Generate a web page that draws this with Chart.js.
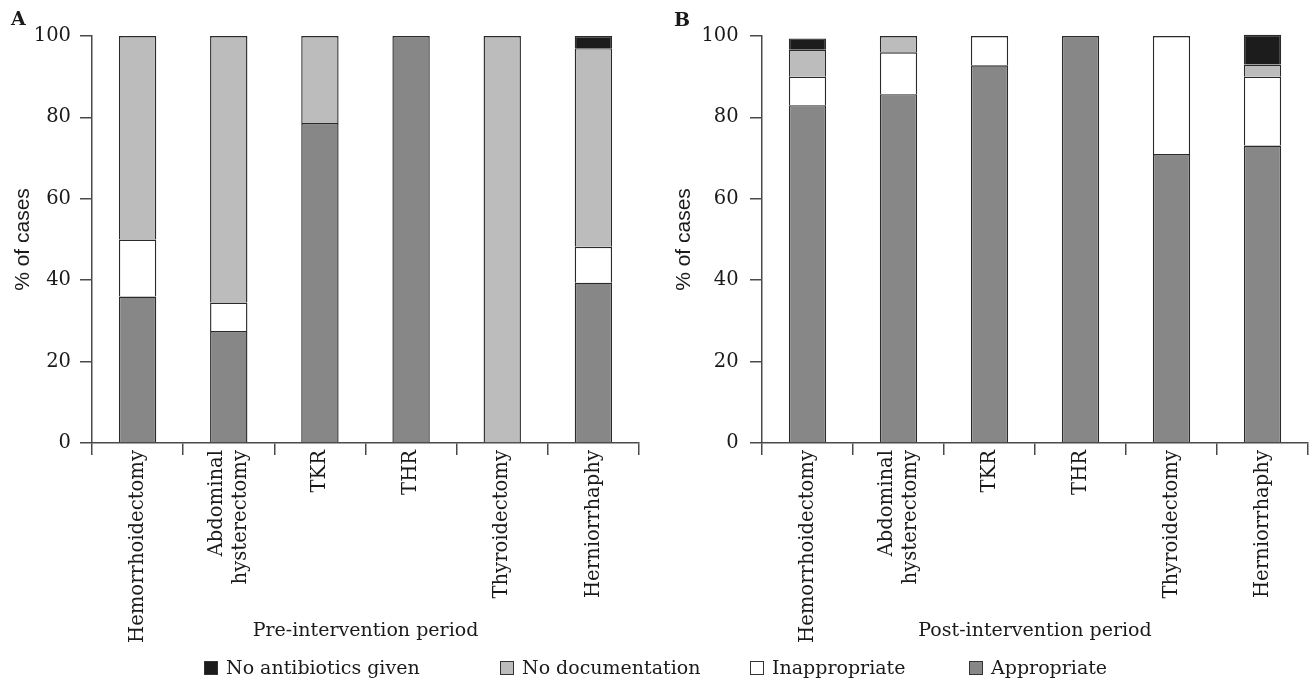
<!DOCTYPE html>
<html>
<head>
<meta charset="utf-8">
<script src="https://cdn.jsdelivr.net/npm/chart.js@4.4.1/dist/chart.umd.min.js"></script>
<style>
  html, body { margin: 0; padding: 0; background: #fff; }
  #wrap { position: relative; width: 1309px; height: 680px; overflow: hidden; }
  canvas { position: absolute; top: 0; }
  #chartA { left: 0; }
  #chartB { left: 670px; }
  .panel { position: absolute; font: bold 19px "DejaVu Serif"; color: #1a1a1a; line-height: 19px; }
  .item { position: absolute; top: 656px; font: 19px "DejaVu Serif"; color: #1a1a1a; line-height: 22px; white-space: nowrap; }
  .item i { display: inline-block; width: 12px; height: 12px; border: 1px solid #333; margin-right: 8px; vertical-align: -1px; }
</style>
</head>
<body>
<div id="wrap">
  <canvas id="chartA" width="640" height="680"></canvas>
  <canvas id="chartB" width="639" height="680"></canvas>
  <div class="panel" style="left:11px;top:9px">A</div>
  <div class="panel" style="left:674px;top:10px">B</div>
  <div id="legend"></div>
</div>
<script>
// surgery types
const categories = ['Hemorrhoidectomy', ['Abdominal', 'hysterectomy'], 'TKR', 'THR', 'Thyroidectomy', 'Herniorrhaphy'];
const yTicks = [0, 20, 40, 60, 80, 100];

// pre-intervention, % of cases
const preAppropriate = [36, 27.5, 78.6, 100, 0, 39.4];
const preInappropriate = [14, 7, 0, 0, 0, 8.8];
const preNoDoc = [50, 65.5, 21.4, 0, 100, 48.8];
const preNoAntibiotics = [0, 0, 0, 0, 0, 3];

// post-intervention, % of cases
const postAppropriate = [83, 85.7, 92.8, 100, 71, 73.1];
const postInappropriate = [7, 10.3, 7.2, 0, 29, 16.9];
const postNoDoc = [6.6, 4, 0, 0, 0, 3];
const postNoAntibiotics = [2.8, 0, 0, 0, 0, 7.3];

const seriesNames = ['Appropriate', 'Inappropriate', 'No documentation', 'No antibiotics given'];
const seriesColors = ['#878787', '#ffffff', '#bcbcbc', '#1c1c1c'];

const AXIS = '#4a4a4a';
const TEXT = '#1a1a1a';

// two-line labels: centre the block on the tick, not the first line
const centerLines = {
    id: 'centerLines',
    beforeDraw(chart) {
        const items = chart.scales.x.getLabelItems();
        items.forEach(it => {
            if (Array.isArray(it.label) && !it._moved) {
                it.textOffset -= (it.label.length - 1) * it.font.lineHeight / 2;
                it._moved = true;
            }
        });
    }
};

function makeDatasets(values) {
    return values.map((v, i) => ({
        label: seriesNames[i],
        data: v.map(x => x === 0 ? null : x),
        backgroundColor: seriesColors[i],
        borderColor: '#2a2a2a',
        borderWidth: 1.4,
        barPercentage: 0.41,
        categoryPercentage: 1,
        clip: false
    }));
}

function makeChart(id, title, values, opts) {
    return new Chart(document.getElementById(id), {
        type: 'bar',
        data: { labels: categories, datasets: makeDatasets(values) },
        plugins: [centerLines],
        options: {
            responsive: false,
            animation: false,
            layout: { padding: { top: 36, right: 1, bottom: 0, left: 0 } },
            plugins: { legend: { display: false }, tooltip: { enabled: false } },
            scales: {
                x: {
                    stacked: true,
                    afterFit: s => { s.height = 237; },
                    grid: { drawOnChartArea: false, offset: true, tickLength: 12, color: AXIS, lineWidth: 1.5 },
                    border: { color: AXIS, width: 1.5 },
                    ticks: {
                        maxRotation: 90, minRotation: 90, padding: -5, color: TEXT,
                        font: { family: 'DejaVu Serif', size: 19.6, lineHeight: 1.22 }
                    },
                    title: {
                        display: true, text: title, color: TEXT,
                        font: { family: 'DejaVu Serif', size: 19 },
                        padding: { top: 0, bottom: 37.6 }
                    }
                },
                y: {
                    stacked: true,
                    min: 0, max: 100,
                    afterFit: s => { s.width = 92; },
                    afterBuildTicks: s => { s.ticks = yTicks.map(v => ({ value: v })); },
                    grid: { drawOnChartArea: false, tickLength: 12, color: AXIS, lineWidth: 1.5 },
                    border: { color: AXIS, width: 1.5 },
                    ticks: { padding: opts.tickPad, color: TEXT, font: { family: 'DejaVu Serif', size: 19.5 } },
                    title: {
                        display: true, text: '% of cases', color: TEXT,
                        font: { family: 'Liberation Sans', size: 21 },
                        padding: { top: opts.titlePad, bottom: 0 }
                    }
                }
            }
        }
    });
}

makeChart('chartA', 'Pre-intervention period',
    [preAppropriate, preInappropriate, preNoDoc, preNoAntibiotics], { tickPad: 9, titlePad: 10.4 });
makeChart('chartB', 'Post-intervention period',
    [postAppropriate, postInappropriate, postNoDoc, postNoAntibiotics], { tickPad: 11.4, titlePad: 1.4 });

// legend, top series first
const legendLeft = [204, 500, 750, 969];
const legend = document.getElementById('legend');
[3, 2, 1, 0].forEach((k, n) => {
    const d = document.createElement('div');
    d.className = 'item';
    d.style.left = legendLeft[n] + 'px';
    d.innerHTML = '<i style="background:' + seriesColors[k] + '"></i>' + seriesNames[k];
    legend.appendChild(d);
});
</script>
</body>
</html>
